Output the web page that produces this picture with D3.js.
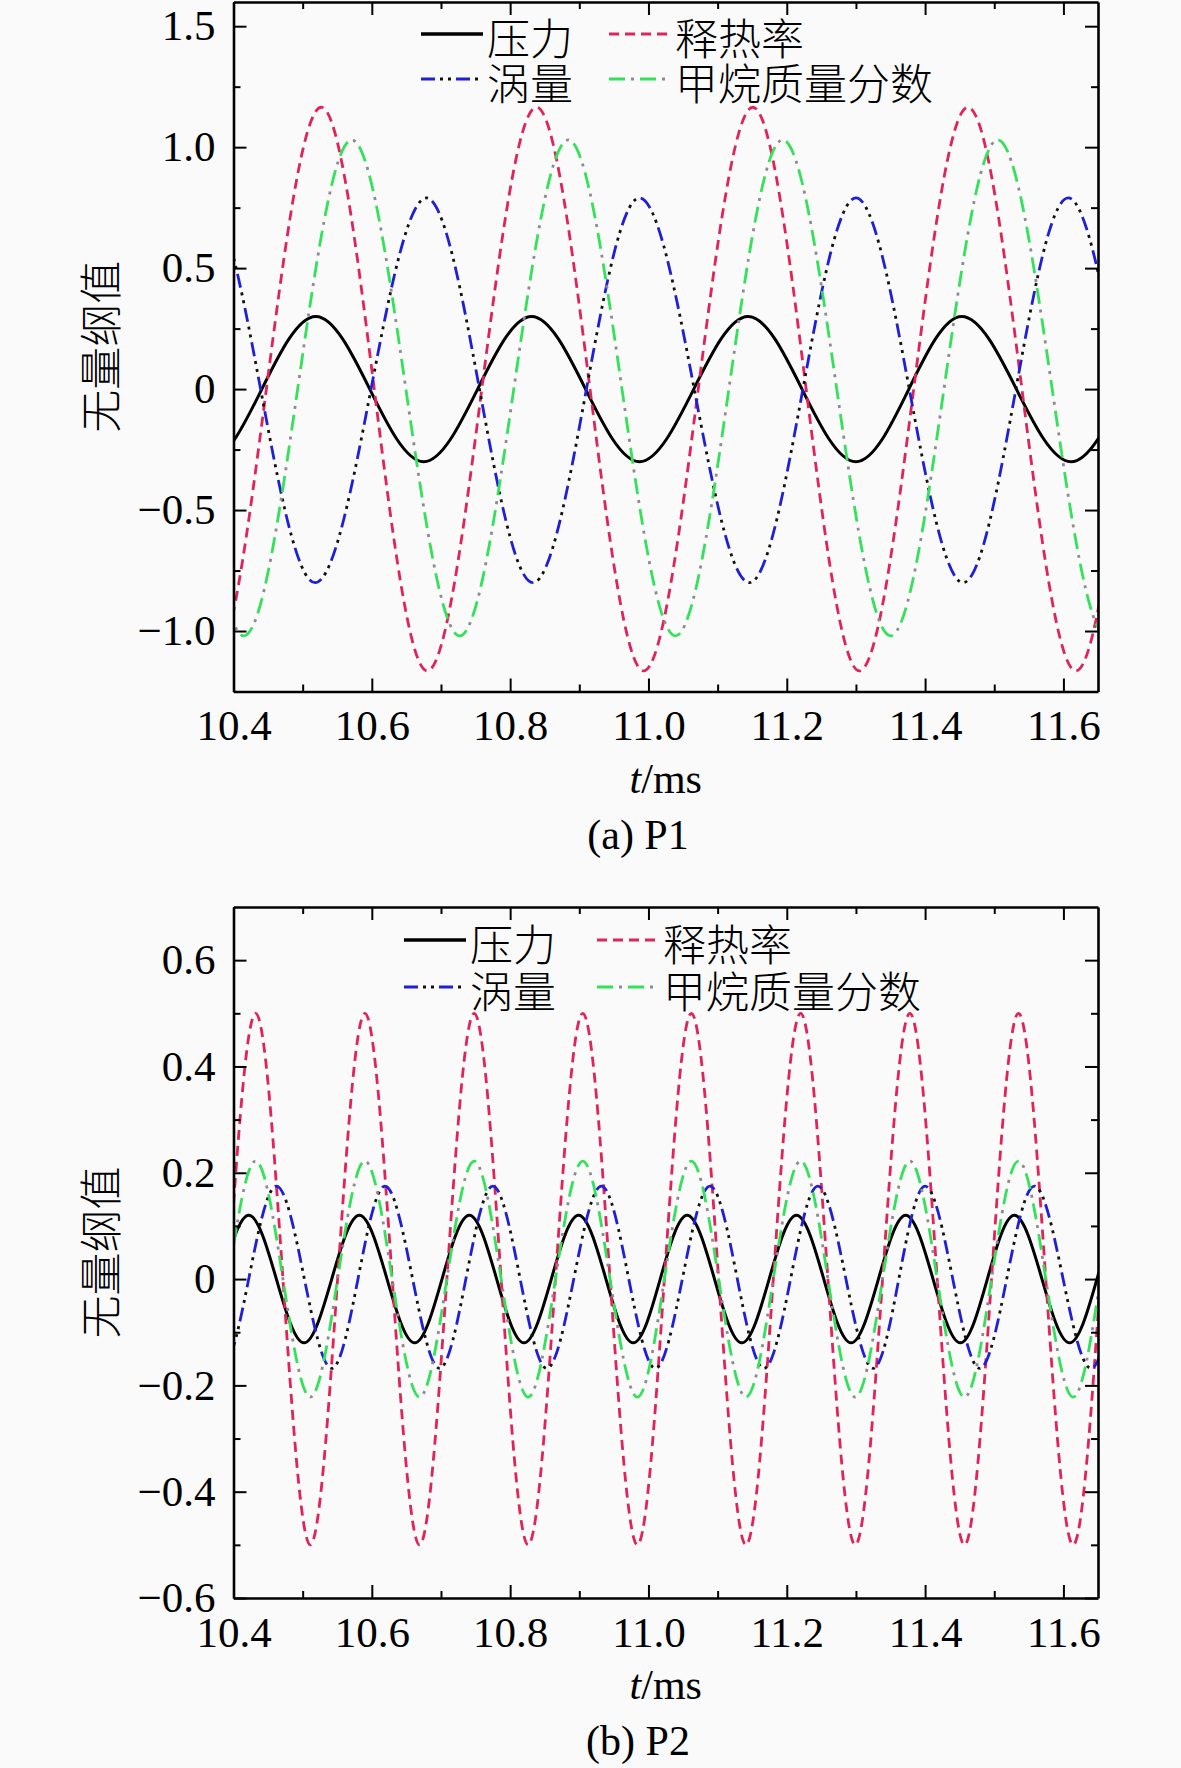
<!DOCTYPE html>
<html>
<head>
<meta charset="utf-8">
<script src="https://cdn.jsdelivr.net/npm/d3@7"></script>
<style>
  body { margin: 0; background: #fafafa; }
  text { font-family: "Liberation Serif", "Times New Roman", "Noto Sans CJK SC", serif; }
</style>
</head>
<body>
<div class="canvas"></div>
<script>
// ---- data (times in ms, values dimensionless) ----
// peaks and troughs of each signal, one extra on each side beyond the axis range
// (a) P1
const pressureA_t = [10.207, 10.363, 10.519, 10.675, 10.831, 10.987, 11.144, 11.300, 11.453, 11.611, 11.767, 11.923];
const pressureA_v = [0.30, -0.30, 0.30, -0.30, 0.30, -0.30, 0.30, -0.30, 0.30, -0.30, 0.30, -0.30];
const hrrA_t = [10.210, 10.368, 10.527, 10.680, 10.838, 10.993, 11.151, 11.305, 11.462, 11.618, 11.775, 11.930];
const hrrA_v = [1.165, -1.165, 1.165, -1.165, 1.165, -1.165, 1.165, -1.165, 1.165, -1.165, 1.165, -1.165];
const vortA_t = [10.205, 10.361, 10.518, 10.679, 10.833, 10.987, 11.146, 11.300, 11.455, 11.607, 11.760, 11.915];
const vortA_v = [-0.80, 0.79, -0.80, 0.79, -0.80, 0.79, -0.80, 0.79, -0.80, 0.79, -0.80, 0.79];
const ch4A_t = [10.103, 10.259, 10.415, 10.571, 10.727, 10.884, 11.039, 11.194, 11.350, 11.505, 11.662, 11.818];
const ch4A_v = [-1.02, 1.03, -1.02, 1.03, -1.02, 1.03, -1.02, 1.03, -1.02, 1.03, -1.02, 1.03];

// (b) P2
const pressureB_t = [10.264, 10.343, 10.422, 10.502, 10.582, 10.662, 10.741, 10.820, 10.899, 10.978, 11.056, 11.135, 11.214, 11.293, 11.372, 11.451, 11.529, 11.609, 11.688, 11.767];
const pressureB_v = [0.12, -0.12, 0.12, -0.12, 0.12, -0.12, 0.12, -0.12, 0.12, -0.12, 0.12, -0.12, 0.12, -0.12, 0.12, -0.12, 0.12, -0.12, 0.12, -0.12];
const hrrB_t = [10.274, 10.353, 10.432, 10.511, 10.590, 10.669, 10.748, 10.826, 10.905, 10.984, 11.062, 11.141, 11.220, 11.299, 11.378, 11.457, 11.535, 11.614, 11.693, 11.772];
const hrrB_v = [0.50, -0.50, 0.50, -0.50, 0.50, -0.50, 0.50, -0.50, 0.50, -0.50, 0.50, -0.50, 0.50, -0.50, 0.50, -0.50, 0.50, -0.50, 0.50, -0.50];
const vortB_t = [10.305, 10.383, 10.462, 10.542, 10.619, 10.698, 10.775, 10.853, 10.932, 11.010, 11.089, 11.167, 11.245, 11.325, 11.400, 11.479, 11.558, 11.640, 11.718, 11.797];
const vortB_v = [0.175, -0.168, 0.175, -0.168, 0.175, -0.168, 0.175, -0.168, 0.175, -0.168, 0.175, -0.168, 0.175, -0.168, 0.175, -0.168, 0.175, -0.168, 0.175, -0.168];
const ch4B_t = [10.274, 10.353, 10.432, 10.511, 10.590, 10.669, 10.748, 10.826, 10.905, 10.984, 11.062, 11.141, 11.220, 11.299, 11.378, 11.457, 11.535, 11.614, 11.693, 11.772];
const ch4B_v = [0.222, -0.222, 0.222, -0.222, 0.222, -0.222, 0.222, -0.222, 0.222, -0.222, 0.222, -0.222, 0.222, -0.222, 0.222, -0.222, 0.222, -0.222, 0.222, -0.222];

// ticks
const xTicks = [10.4, 10.6, 10.8, 11.0, 11.2, 11.4, 11.6];
const xMinorTicks = [10.5, 10.7, 10.9, 11.1, 11.3, 11.5];
const yTicksA = [-1.0, -0.5, 0, 0.5, 1.0, 1.5];
const yMinorA = [-1.25, -0.75, -0.25, 0.25, 0.75, 1.25];
const yTicksB = [-0.6, -0.4, -0.2, 0, 0.2, 0.4, 0.6];
const yMinorB = [-0.5, -0.3, -0.1, 0.1, 0.3, 0.5];

const seriesNames = ['压力', '释热率', '涡量', '甲烷质量分数'];
const yLabel = '无量纲值';

// ---- drawing ----
const W = 1181, H = 1768;
const svg = d3.select('.canvas').append('svg')
    .attr('width', W).attr('height', H);

const left = 233.5, right = 1098;
const x = d3.scaleLinear().domain([10.4, 11.65]).range([left, right]);

// line style for each series: list of [color, dasharray] layers
const styles = [
    [['#000000', null]],
    [['#e0245a', '10,6']],
    [['#1f1fd6', '14,21'], ['#111111', '0,19,3,5,3,5']],
    [['#35e05a', '16,15'], ['#8c8c8c', '0,22,3,6']]
];

const fmt = d => d === 0 ? '0' : d3.format('.1f')(d);

function drawPanel(p, id) {
    const y = d3.scaleLinear().domain(p.yDomain).range([p.bottom, p.top]);
    const g = svg.append('g');

    g.append('clipPath').attr('id', 'clip' + id)
        .append('rect')
        .attr('x', left).attr('y', p.top)
        .attr('width', right - left).attr('height', p.bottom - p.top);

    const line = d3.line()
        .x(d => x(d[0]))
        .y(d => y(d[1]))
        .curve(d3.curveMonotoneX);

    const lines = g.append('g').attr('clip-path', 'url(#clip' + id + ')');
    p.series.forEach((s, i) => {
        const pts = s.t.map((t, k) => [t, s.v[k]]);
        styles[i].forEach(([col, dash]) => {
            lines.append('path')
                .attr('d', line(pts))
                .attr('fill', 'none')
                .attr('stroke', col)
                .attr('stroke-width', i === 0 ? 3 : 2.8)
                .attr('stroke-dasharray', dash);
        });
    });

    // axes on all four sides, ticks inward
    const axes = [
        [d3.axisBottom(x), 'translate(0,' + p.bottom + ')', xTicks, xMinorTicks, true],
        [d3.axisTop(x), 'translate(0,' + p.top + ')', xTicks, xMinorTicks, false],
        [d3.axisLeft(y), 'translate(' + left + ',0)', p.yTicks, p.yMinor, true],
        [d3.axisRight(y), 'translate(' + right + ',0)', p.yTicks, p.yMinor, false]
    ];
    axes.forEach(([ax, tr, major, minor, labels]) => {
        const isX = major === xTicks;
        const a = g.append('g').attr('transform', tr)
            .call(ax.tickValues(major)
                .tickSizeInner(-13).tickSizeOuter(0).tickPadding(18)
                .tickFormat(labels ? (isX ? d3.format('.1f') : fmt) : ''));
        a.select('.domain').attr('stroke-width', 2.6);
        a.selectAll('.tick line').attr('stroke-width', 2);
        a.selectAll('text').attr('font-size', 43)
            .attr('font-family', '"Liberation Serif", serif').attr('fill', '#000');
        const m = g.append('g').attr('transform', tr)
            .call(ax.tickValues(minor).tickSizeInner(-7).tickFormat(''));
        m.select('.domain').remove();
        m.selectAll('.tick line').attr('stroke-width', 2);
    });

    // y label
    g.append('text')
        .attr('transform', 'translate(98,' + (p.top + p.bottom) / 2 + ') rotate(-90)')
        .attr('text-anchor', 'middle')
        .attr('dominant-baseline', 'central')
        .style('font-family', '"Noto Sans CJK SC", sans-serif')
        .style('font-weight', 300)
        .attr('font-size', 43)
        .text(yLabel);

    // x label and caption
    const xl = g.append('text')
        .attr('x', (left + right) / 2).attr('y', p.bottom + 101)
        .attr('text-anchor', 'middle').attr('font-size', 42);
    xl.append('tspan').attr('font-style', 'italic').text('t');
    xl.append('tspan').text('/ms');

    g.append('text')
        .attr('x', 638).attr('y', p.bottom + 157)
        .attr('text-anchor', 'middle').attr('font-size', 42)
        .text(p.caption);

    // legend
    const lg = p.legend;
    seriesNames.forEach((name, i) => {
        const col = i % 2, row = Math.floor(i / 2);
        const lx = lg.x[col], ly = lg.y[row];
        styles[i].forEach(([c, dash]) => {
            g.append('line')
                .attr('x1', lx).attr('x2', lx + 62)
                .attr('y1', ly).attr('y2', ly)
                .attr('stroke', c).attr('stroke-width', i === 0 ? 3.5 : 3)
                .attr('stroke-dasharray', dash);
        });
        g.append('text')
            .attr('x', lx + 66).attr('y', ly + 2)
            .attr('dominant-baseline', 'central')
            .style('font-family', '"Noto Sans CJK SC", sans-serif')
            .style('font-weight', 300)
            .attr('font-size', 43)
            .text(name);
    });
}

drawPanel({
    top: 2, bottom: 691.5, yDomain: [-1.25, 1.6],
    yTicks: yTicksA, yMinor: yMinorA, caption: '(a) P1',
    legend: { x: [421, 609], y: [34, 79] },
    series: [
        { t: pressureA_t, v: pressureA_v },
        { t: hrrA_t, v: hrrA_v },
        { t: vortA_t, v: vortA_v },
        { t: ch4A_t, v: ch4A_v }
    ]
}, 'a');

drawPanel({
    top: 907, bottom: 1598, yDomain: [-0.6, 0.7],
    yTicks: yTicksB, yMinor: yMinorB, caption: '(b) P2',
    legend: { x: [404, 597], y: [940, 987] },
    series: [
        { t: pressureB_t, v: pressureB_v },
        { t: hrrB_t, v: hrrB_v },
        { t: vortB_t, v: vortB_v },
        { t: ch4B_t, v: ch4B_v }
    ]
}, 'b');
</script>
</body>
</html>
